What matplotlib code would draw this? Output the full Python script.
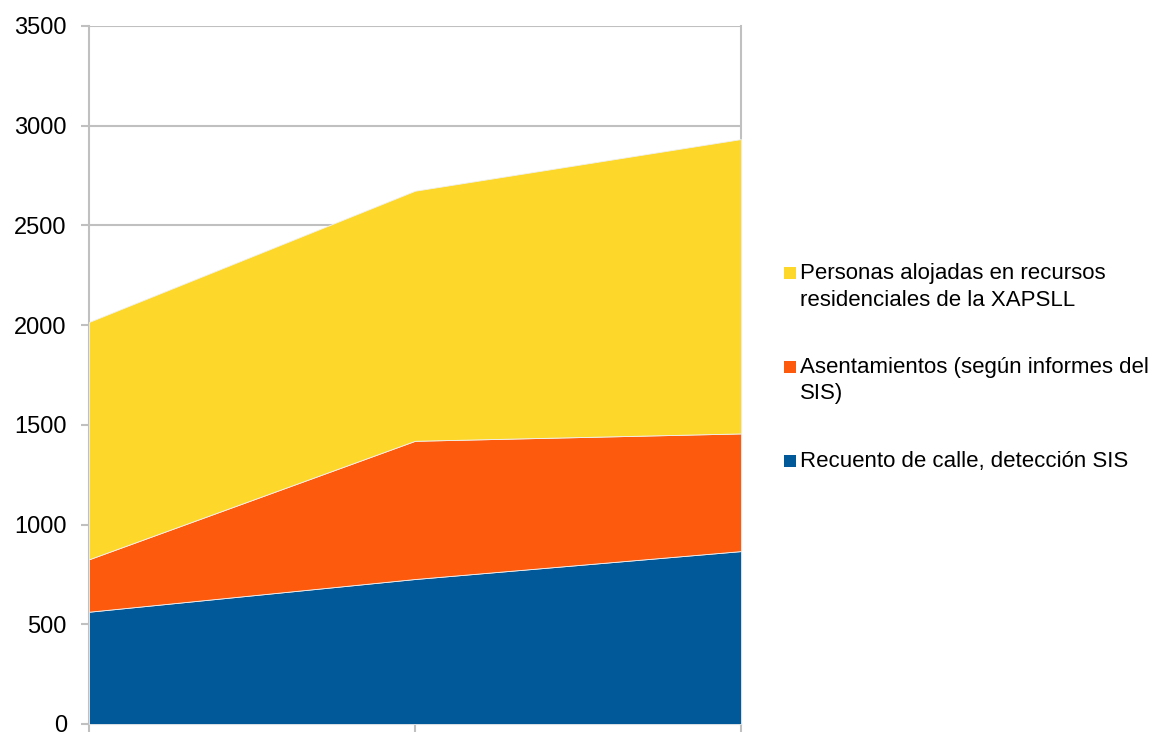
import matplotlib
matplotlib.use("Agg")
import matplotlib.pyplot as plt
from matplotlib.patches import Rectangle

plt.rcParams['font.family'] = ['Liberation Sans', 'DejaVu Sans']

# ---- data ----
x_pos = [0, 1, 2]
recuento = [563, 727, 867]
asentamientos = [263, 693, 590]
alojadas = [1190, 1254, 1476]
labels = ["Recuento de calle, detección SIS",
          "Asentamientos (según informes del\nSIS)",
          "Personas alojadas en recursos\nresidenciales de la XAPSLL"]
colors = ["#01599A", "#FE5A0D", "#FDD82B"]
y_ticks = [0, 500, 1000, 1500, 2000, 2500, 3000, 3500]

W, H = 1155, 733
fig = plt.figure(figsize=(W / 100, H / 100), dpi=100)
ax = fig.add_axes([89 / W, (H - 724) / H, (741 - 89) / W, (724 - 26) / H])

ax.stackplot(x_pos, recuento, asentamientos, alojadas, colors=colors,
             edgecolor="#f0f0f0", linewidth=0.6, zorder=3)

ax.set_xlim(0, 2)
ax.set_ylim(0, 3500)
ax.set_yticks(y_ticks)
ax.set_xticks(x_pos)
ax.set_xticklabels([])
ax.yaxis.grid(True, color="#c0c0c0", linewidth=1.5, zorder=0)
ax.set_axisbelow(True)
for s in ax.spines.values():
    s.set_color("#c0c0c0")
    s.set_linewidth(1.5)
ax.spines['top'].set_visible(False)
ax.tick_params(axis='y', length=6, width=1.5, color="#c0c0c0", labelsize=17, pad=10)
ax.tick_params(axis='x', length=6, width=1.5, color="#c0c0c0")

# ---- legend (manual) ----
legend_items = [
    (2, 279),  # yellow, first-line baseline
    (1, 373),
    (0, 467),
]
for idx, base in legend_items:
    fig.patches.append(Rectangle((784 / W, (H - base) / H), 12 / W, 12 / H,
                                 transform=fig.transFigure, facecolor=colors[idx],
                                 edgecolor='none'))
    for k, line in enumerate(labels[idx].split("\n")):
        fig.text(800 / W, (H - base - k * 26.5) / H, line, fontsize=16,
                 va='baseline', ha='left', color='black')

fig.savefig("out.png", dpi=100)
